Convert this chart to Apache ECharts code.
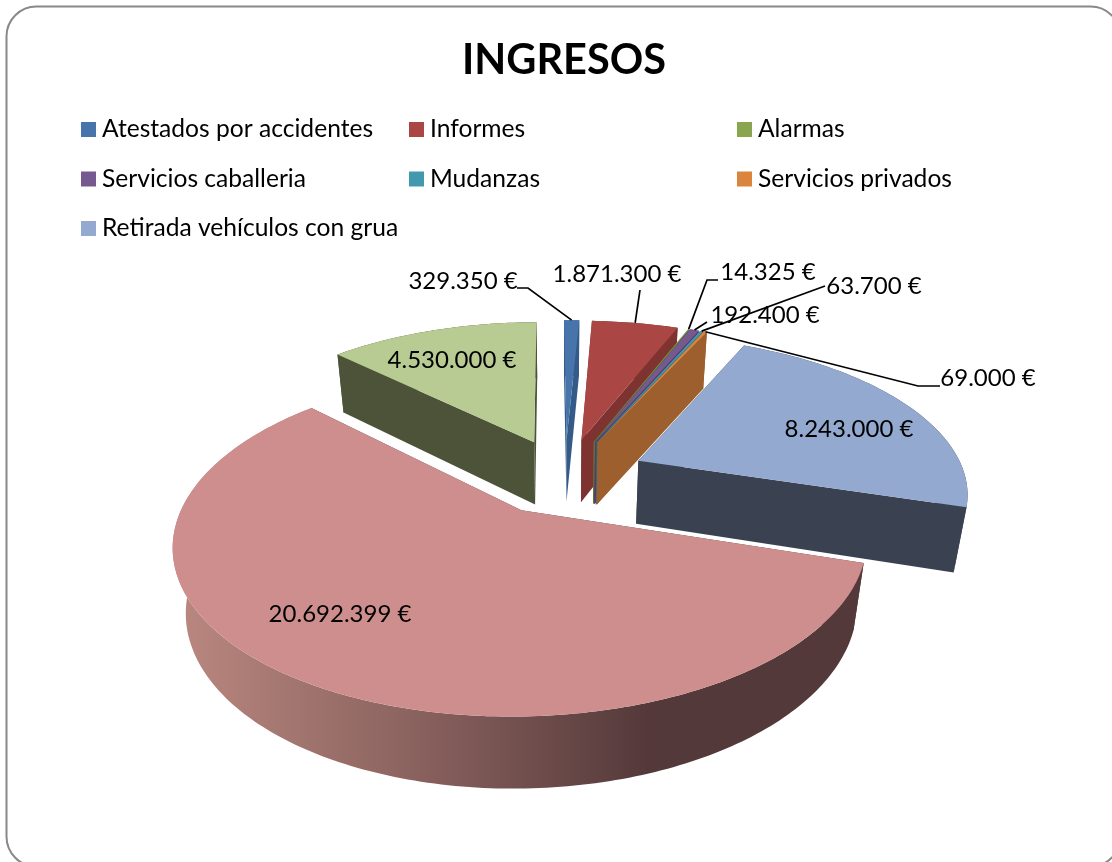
<!DOCTYPE html>
<html><head><meta charset="utf-8">
<style>html,body{margin:0;padding:0;background:#fff;overflow:hidden}#c{width:1112px;height:862px}</style>
<script src="https://cdn.jsdelivr.net/npm/echarts@6/dist/echarts.min.js"></script></head>
<body><div id="c"></div>
<script>
// ---- data ----
const categories = ['Atestados por accidentes','Informes','Alarmas','Servicios caballeria','Mudanzas','Servicios privados','Retirada vehículos con grua','Serie 8','Serie 9'];
const values = [329350,1871300,14325,192400,63700,69000,8243000,20692399,4530000];
const legendColumns = [[0,3,6],[1,4],[2,5]];
// ---- styles ----
const topColors  = ['#4674AB','#AA4643','#89A54E','#75598F','#4298AF','#DB843D','#93A9CF','#CF8E8E','#B7CB92'];
const wallColors = ['#345A88','#7F3331','#5F7336','#533F66','#2F6C7C','#9C5F2D','#3A4252','#54393A','#4D5339'];
const drawOrder  = [8,0,1,2,3,4,5,6,7];
const labelCenters = [[463,281],[617,274],[768,272],[765,315],[874,286],[988,378],[849,429],[340,614],[452,360]];
const leaderVia = [[[517,288],[528,288]],[[640,290]],[[718,280],[707,280]],[[707,322]],[[825,286]],[[940,386],[918,386]],null,null,null];
// ---- projection ----
const CX=565,CY=476,SCALE=327,TILT=28*Math.PI/180,K=0.185,ZK=0.14,EXPLODE=0.25,HEIGHT=0.228,START=-0.5;
function project(X,Y,z){
  const sinT=Math.sin(TILT),cosT=Math.cos(TILT);
  const w=1-K*Y-ZK*z;
  return [CX+SCALE*X/w, CY+SCALE*(Y*sinT-z*cosT)/w];
}
const total=values.reduce((a,b)=>a+b,0);
const angles=[];let acc=START;
values.forEach(v=>{const s=acc;acc+=v/total*360;angles.push([s,acc]);});
function slicePoint(i,r,deg,z){
  const [s,e]=angles[i],m=(s+e)/2*Math.PI/180,a=deg*Math.PI/180;
  const X=EXPLODE*Math.sin(m)+r*Math.sin(a),Y=-EXPLODE*Math.cos(m)-r*Math.cos(a);
  return project(X,Y,z);
}
function arc(i,z){
  const [s,e]=angles[i],n=Math.max(2,Math.ceil(e-s)),p=[];
  for(let k=0;k<=n;k++)p.push(slicePoint(i,1,s+(e-s)*k/n,z));
  return p;
}
function fmt(v){return String(v).replace(/\B(?=(\d{3})+$)/g,'.')+' €';}
function renderSlice(i){
  return function(params,api){
    const up=arc(i,0),down=arc(i,-HEIGHT);
    const tipU=slicePoint(i,0,0,0),tipD=slicePoint(i,0,0,-HEIGHT);
    const wall=wallColors[i];
    const outerFill = i===7 ? new echarts.graphic.LinearGradient(180,0,650,0,[
        {offset:0,color:'#B9877F'},{offset:0.45,color:'#8F6662'},{offset:1,color:'#54393A'}],true) : wall;
    const poly=(pts,fill)=>({type:'polygon',shape:{points:pts},style:{fill,stroke:null}});
    return {type:'group',children:[
      poly([tipU,up[0],down[0],tipD],wall),
      poly([tipU,up[up.length-1],down[down.length-1],tipD],wall),
      poly(up.concat(down.slice().reverse()),outerFill),
      poly([tipU].concat(up),topColors[i])
    ]};
  };
}
function renderLabel(params,api){
  const i=api.value(0),c=labelCenters[i],kids=[];
  if(leaderVia[i]){
    const m=(angles[i][0]+angles[i][1])/2,end=slicePoint(i,1,m,0);
    kids.push({type:'polyline',shape:{points:leaderVia[i].concat([end])},style:{stroke:'#000',lineWidth:1.7,fill:null}});
  }
  kids.push({type:'text',style:{x:c[0],y:c[1],text:fmt(values[i]),fill:'#000',font:'24px Lato',align:'center',verticalAlign:'middle'}});
  return {type:'group',children:kids};
}
const series=categories.map((name,i)=>({
  type:'custom',name,coordinateSystem:'none',silent:true,animation:false,
  z:3+drawOrder.indexOf(i),itemStyle:{color:topColors[i]},
  data:[[values[i]]],renderItem:renderSlice(i)
}));
series.push({type:'custom',name:'labels',coordinateSystem:'none',silent:true,animation:false,z:20,
  data:values.map((v,i)=>[i]),renderItem:renderLabel});
const legendX=[81,409,737];
const chart=echarts.init(document.getElementById('c'),null,{renderer:'canvas'});
chart.setOption({
  backgroundColor:'#fff',animation:false,
  title:{text:'INGRESOS',left:559,top:35,textAlign:'center',textStyle:{fontFamily:'Lato',fontSize:41.5,fontWeight:'bold',color:'#000'}},
  legend:legendColumns.map((col,j)=>({
    orient:'vertical',left:legendX[j],top:117,padding:0,itemWidth:15,itemHeight:15,itemGap:24.5,
    icon:'rect',selectedMode:false,data:col.map(i=>categories[i]),
    textStyle:{fontFamily:'Lato',fontSize:24.6,color:'#000',lineHeight:24,padding:[0,0,0,1]}
  })),
  graphic:[{type:'rect',z:0,silent:true,shape:{x:6.5,y:6.5,width:1114,height:860,r:30},style:{fill:'#fff',stroke:'#888',lineWidth:2}}],
  series
});
</script></body></html>
